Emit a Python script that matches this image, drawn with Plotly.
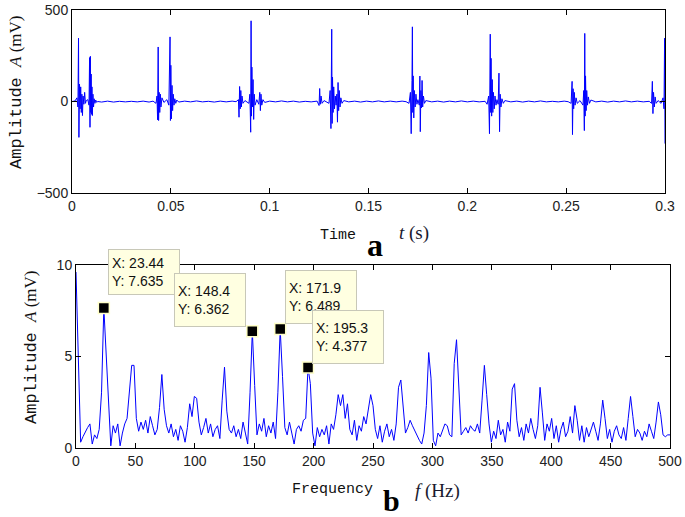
import plotly.graph_objects as go

W, H = 685, 517

# ---------------- data: time signal (s, mV) ----------------
t_s = [
    0.0000, 0.0015, 0.0025, 0.0030, 0.0033, 0.0035, 0.0038, 0.0041, 0.0044, 0.0047,
    0.0050, 0.0053, 0.0056, 0.0060, 0.0064, 0.0068, 0.0072, 0.0080, 0.0086, 0.0089,
    0.0091, 0.0093, 0.0095, 0.0097, 0.0099, 0.0101, 0.0103, 0.0106, 0.0109, 0.0112,
    0.0116, 0.0120, 0.0125, 0.0130,
    0.015, 0.018, 0.021, 0.024, 0.027, 0.030, 0.033, 0.036, 0.039, 0.041,
    0.0425, 0.0430, 0.0433, 0.0436, 0.0438, 0.0441, 0.0444, 0.0447, 0.0450, 0.0455,
    0.0465, 0.0480, 0.0490, 0.0494, 0.0496, 0.0498, 0.0500, 0.0503, 0.0506, 0.0509,
    0.0512, 0.0516, 0.0520, 0.0525, 0.0530, 0.0540,
    0.057, 0.060, 0.063, 0.066, 0.069, 0.072, 0.075, 0.078, 0.081, 0.083,
    0.0842, 0.0845, 0.0848, 0.0851, 0.0854, 0.0857, 0.0860, 0.0865, 0.0875, 0.0895,
    0.0900, 0.0904, 0.0906, 0.0908, 0.0910, 0.0913, 0.0916, 0.0919, 0.0922, 0.0926,
    0.0935, 0.0945, 0.0950, 0.0953, 0.0956, 0.0960, 0.0966, 0.0975,
    0.100, 0.103, 0.106, 0.109, 0.112, 0.115, 0.118, 0.121, 0.124,
    0.1250, 0.1253, 0.1256, 0.1260, 0.1265, 0.1275, 0.1300, 0.1306, 0.1310, 0.1314,
    0.1316, 0.1318, 0.1321, 0.1324, 0.1328, 0.1332, 0.1336, 0.1340, 0.1343, 0.1346,
    0.1349, 0.1352, 0.1356, 0.1360, 0.1366, 0.1375,
    0.140, 0.143, 0.146, 0.149, 0.152, 0.155, 0.158, 0.161, 0.164, 0.167, 0.169,
    0.1705, 0.1712, 0.1716, 0.1720, 0.1722, 0.1724, 0.1726, 0.1729, 0.1732, 0.1736,
    0.1740, 0.1745, 0.1750, 0.1757, 0.1760, 0.1762, 0.1765, 0.1768, 0.1771, 0.1774,
    0.1778, 0.1783, 0.1790,
    0.182, 0.185, 0.188, 0.191, 0.194, 0.197, 0.200, 0.203, 0.206, 0.209,
    0.2100, 0.2108, 0.2112, 0.2116, 0.2118, 0.2120, 0.2123, 0.2126, 0.2129, 0.2132,
    0.2136, 0.2140, 0.2145, 0.2150, 0.2156, 0.2160, 0.2163, 0.2166, 0.2170, 0.2175,
    0.2182, 0.2190,
    0.222, 0.225, 0.228, 0.231, 0.234, 0.237, 0.240, 0.243, 0.246, 0.249, 0.251,
    0.2525, 0.2530, 0.2532, 0.2535, 0.2538, 0.2541, 0.2545, 0.2550, 0.2556, 0.2570,
    0.2585, 0.2589, 0.2592, 0.2594, 0.2596, 0.2598, 0.2601, 0.2604, 0.2608, 0.2612,
    0.2618, 0.2625,
    0.265, 0.268, 0.271, 0.274, 0.277, 0.280, 0.283, 0.286, 0.289, 0.292,
    0.2932, 0.2936, 0.2939, 0.2942, 0.2946, 0.2950, 0.2955, 0.2965, 0.2980, 0.2990,
    0.2995, 0.2998, 0.3000,
]
amp_mV = [
    0, 3, 20, -30, 346, -196, 95, -40, 80, -60,
    40, -77, 30, -15, 50, -10, 5, 10, -20, 240,
    -141, 247, -60, 150, -70, 80, -77, 40, -30, 15,
    -10, 8, -5, 0,
    -3, 2, -3, 1, -2, 1, -2, 2, -3, 2,
    -10, 30, -100, 298, -104, 50, -60, 40, -30, 20,
    -5, 10, -20, 160, 353, -104, 198, -95, 88, -50,
    40, -20, 15, -10, 8, -3,
    2, -2, 3, -2, 1, -3, 2, -2, 2, -1,
    10, -86, 82, -40, 60, -30, 30, -10, 5, -10,
    40, -168, 441, -80, 188, -30, 120, -98, 40, -20,
    10, -15, 50, -50, 40, -20, 10, -5,
    2, -2, 3, -2, 2, -3, 1, -2, 2,
    -22, 71, -15, 30, -10, 5, -10, 60, -148, 395,
    -120, 133, -60, 80, -40, 30, -20, 40, -113, 104,
    -50, 60, -30, 20, -10, 5,
    -2, 2, -3, 2, -2, 3, -2, 2, -2, 2, -1,
    -10, 50, -176, 115, 408, -60, 140, -90, 60, -30,
    40, -15, 10, -20, 139, -165, 60, -35, 115, -30,
    30, -10, 5,
    -2, 2, -3, 2, -2, 3, -2, 2, -2, 1,
    -15, 30, -176, 368, -60, 236, -80, 120, -60, 50,
    -40, 30, -20, 10, -15, 155, -165, 40, -30, 15,
    -10, 5,
    -2, 2, -3, 2, -2, 3, -2, 1, -2, 2, -1,
    -10, 110, -181, 70, -40, 50, -20, 20, -10, 5,
    -20, 60, -159, 372, -80, 140, -50, 60, -20, 25,
    -10, 8,
    -2, 2, -3, 2, -2, 3, -2, 2, -2, 1,
    -10, 110, -66, 50, -30, 25, -10, 5, -10, 20,
    -40, 346, -230,
]

# ---------------- data: amplitude spectrum (bin step 1.953125 Hz) ----------------
freq_step_Hz = 1.953125
spec_mV = [
    9.6, 5.4, 0.3, 0.6, 0.9, 1.1, 1.3, 0.2, 0.7, 0.5,
    1.0, 3.0, 7.635, 5.3, 2.4, 0.1, 1.2, 0.8, 1.3, 0.1,
    0.8, 1.3, 1.6, 2.9, 4.5, 4.5, 1.6, 0.9, 1.4, 1.0,
    1.5, 0.8, 1.7, 1.2, 0.7, 1.0, 2.2, 4.0, 2.1, 1.2,
    0.8, 1.3, 0.6, 1.0, 0.4, 1.2, 0.9, 0.3, 1.1, 2.4,
    1.7, 2.8, 2.7, 1.4, 0.7, 1.1, 1.6, 0.8, 1.3, 0.6,
    1.0, 1.2, 0.5, 2.6, 4.4, 2.0, 1.0, 0.8, 1.2, 0.6,
    1.0, 0.5, 1.4, 0.8, 0.2, 3.0, 6.362, 3.4, 0.7, 1.3,
    0.9, 1.6, 0.6, 1.2, 0.8, 1.4, 0.5, 3.0, 6.489, 3.9,
    1.1, 0.7, 1.4, 0.8, 0.2, 1.0, 1.2, 0.9, 1.5, 1.6,
    4.377, 3.5, 0.8, 0.1, 1.1, 0.6, 1.0, 0.7, 1.2, 0.2,
    1.3, 1.0, 1.8, 2.9, 2.3, 2.9, 1.6, 2.4, 1.0, 0.7,
    1.5, 0.4, 1.2, 0.9, 1.7, 1.3, 2.0, 2.9, 2.3, 1.0,
    0.5, 1.2, 0.3, 0.9, 1.3, 0.6, 1.0, 0.4, 1.3, 3.3,
    3.7, 2.2, 0.8, 1.1, 1.5, 1.2, 0.9, 0.6, 0.4, 0.2,
    0.8, 2.3, 5.2, 3.8, 0.4, 0.1, 0.8, 0.6, 1.0, 1.3,
    1.2, 0.7, 0.6, 4.6, 5.9, 3.4, 0.7, 0.9, 1.1, 0.8,
    1.2, 1.0, 0.9, 1.3, 0.8, 2.6, 4.5, 2.9, 1.3, 0.3,
    0.9, 0.5, 1.5, 0.7, 1.0, 0.3, 1.4, 0.9, 3.2, 3.5,
    1.5, 0.6, 1.1, 0.4, 1.3, 0.8, 1.6, 1.0, 0.5, 1.2,
    3.3, 1.9, 0.4, 1.3, 0.9, 1.6, 0.5, 1.2, 0.3, 1.0,
    1.4, 0.6, 0.9, 1.7, 0.8, 2.3, 1.5, 0.4, 1.2, 0.3,
    1.1, 0.6, 1.0, 1.4, 0.9, 0.4, 1.3, 2.6, 1.6, 0.5,
    1.0, 0.3, 0.9, 1.2, 0.7, 0.5, 1.1, 0.4, 1.6, 2.8,
    1.7, 0.6, 1.0, 0.8, 0.4, 0.9, 0.6, 1.3, 0.9, 0.5,
    1.4, 2.5, 1.8, 0.7, 0.6, 0.7, 0.7,
]
freq_Hz = [k * freq_step_Hz for k in range(len(spec_mV))]

# data tips
tip_x = [23.44, 148.4, 171.9, 195.3]
tip_y = [7.635, 6.362, 6.489, 4.377]

time_ticks = [0, 0.05, 0.1, 0.15, 0.2, 0.25, 0.3]
time_ticklabels = ["0", "0.05", "0.1", "0.15", "0.2", "0.25", "0.3"]
amp_ticks = [-500, 0, 500]
freq_ticks = list(range(0, 501, 50))
spec_ticks = [0, 5, 10]

# ---------------- figure ----------------
def px_x(p):
    return p / W

def px_y(p):
    return 1 - p / H

fig = go.Figure()
fig.add_trace(go.Scatter(x=t_s, y=amp_mV, mode="lines",
                         line=dict(color="#0000ff", width=1), xaxis="x", yaxis="y",
                         showlegend=False, hoverinfo="skip"))
fig.add_trace(go.Scatter(x=freq_Hz, y=spec_mV, mode="lines",
                         line=dict(color="#0000ff", width=1), xaxis="x2", yaxis="y2",
                         showlegend=False, hoverinfo="skip"))
fig.add_trace(go.Scatter(x=tip_x, y=tip_y, mode="markers",
                         marker=dict(symbol="square", size=11, color="black",
                                     line=dict(color="#ffffc8", width=1.5)),
                         xaxis="x2", yaxis="y2", showlegend=False, hoverinfo="skip",
                         cliponaxis=False))

tickfont = dict(family="Liberation Sans, Arial", size=14, color="#222222")
axis_common = dict(showline=True, linecolor="black", linewidth=1, mirror="ticks",
                   ticks="inside", ticklen=5, tickcolor="black", tickwidth=1,
                   showgrid=False, zeroline=False, tickfont=tickfont)

fig.update_layout(
    width=W, height=H,
    margin=dict(l=0, r=0, t=0, b=0, autoexpand=False),
    paper_bgcolor="white", plot_bgcolor="white",
    xaxis=dict(domain=[px_x(72), px_x(665)], range=[0, 0.3], anchor="y",
               tickvals=time_ticks, ticktext=time_ticklabels, **axis_common),
    yaxis=dict(domain=[px_y(193), px_y(10)], range=[-500, 500], anchor="x",
               tickvals=amp_ticks, **axis_common),
    xaxis2=dict(domain=[px_x(76), px_x(670)], range=[0, 500], anchor="y2",
                tickvals=freq_ticks, **axis_common),
    yaxis2=dict(domain=[px_y(447.7), px_y(264.7)], range=[0, 10], anchor="x2",
                tickvals=spec_ticks, **axis_common),
)

mono = "Liberation Mono, Courier New, monospace"
serif = "Liberation Serif, Times New Roman, serif"
ylab = ("<span style='font-family:Liberation Mono'>Amplitude </span>"
        "<i>A</i> (mV)")

annos = []
# y-axis labels
for cx, cy in [(16, 92), (31, 347)]:
    annos.append(dict(text=ylab, x=px_x(cx), y=px_y(cy), xref="paper", yref="paper",
                      showarrow=False, textangle=-90, xanchor="center", yanchor="middle",
                      font=dict(family=serif, size=17, color="#111111")))
# x-axis labels
annos.append(dict(text="Time", x=px_x(318), y=px_y(235), xref="paper", yref="paper",
                  showarrow=False, xanchor="left", yanchor="middle",
                  font=dict(family=mono, size=15, color="#111111")))
annos.append(dict(text="<i>t</i> (s)", x=px_x(397), y=px_y(233), xref="paper", yref="paper",
                  showarrow=False, xanchor="left", yanchor="middle",
                  font=dict(family=serif, size=19, color="#1a1a2e")))
annos.append(dict(text="<b>a</b>", x=px_x(375), y=px_y(245), xref="paper", yref="paper",
                  showarrow=False, xanchor="center", yanchor="middle",
                  font=dict(family=serif, size=32, color="black")))
annos.append(dict(text="Frequency", x=px_x(290), y=px_y(489), xref="paper", yref="paper",
                  showarrow=False, xanchor="left", yanchor="middle",
                  font=dict(family=mono, size=15, color="#111111")))
annos.append(dict(text="<i>f</i> (Hz)", x=px_x(413), y=px_y(491), xref="paper", yref="paper",
                  showarrow=False, xanchor="left", yanchor="middle",
                  font=dict(family=serif, size=19, color="#1a1a2e")))
annos.append(dict(text="<b>b</b>", x=px_x(391), y=px_y(500), xref="paper", yref="paper",
                  showarrow=False, xanchor="center", yanchor="middle",
                  font=dict(family=serif, size=30, color="black")))

# data-tip boxes (left/top corner in pixels, height)
boxes = [(108, 249, 38), (174, 273, 46), (285, 270, 46), (312, 310, 46)]
for (bx, by, bh), xv, yv in zip(boxes, tip_x, tip_y):
    annos.append(dict(text=f"X: {xv:g}<br>Y: {yv:.3f}",
                      x=px_x(bx), y=px_y(by), xref="paper", yref="paper",
                      showarrow=False, xanchor="left", yanchor="top", align="left",
                      width=64, height=bh, borderpad=3, valign="middle",
                      bgcolor="#ffffe1", bordercolor="#c8c8b8", borderwidth=1,
                      font=dict(family="Liberation Sans, Arial", size=14, color="#111111")))

fig.update_layout(annotations=annos)
fig.write_html("out.html", config={"displayModeBar": False},
               post_script="document.body.style.margin='0';document.body.style.overflow='hidden';")
